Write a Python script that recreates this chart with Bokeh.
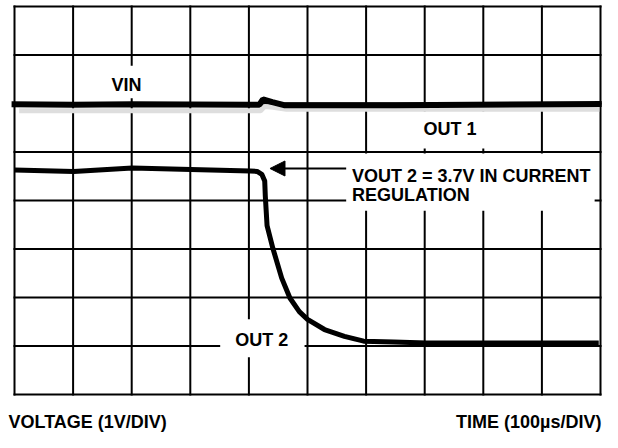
from bokeh.plotting import figure
from bokeh.models import Range1d, Label, Arrow, NormalHead, ColumnDataSource
from bokeh.embed import file_html
from bokeh.resources import INLINE

# Time in divisions (100us/DIV), voltage in divisions (1V/DIV)
vin_t = [-0.05, 1.0, 2.0, 4.0, 4.18, 4.24, 4.40, 4.60, 6.50, 10.02]
vin_v = [5.985, 5.975, 5.985, 5.975, 5.975, 6.087, 6.03, 5.965, 5.965, 5.99]

out1_t = [0.08, 4.20, 4.27, 4.41, 4.64, 9.98]
out1_v = [5.85, 5.85, 5.94, 5.92, 5.88, 5.88]

out2_t = [0.0, 1.01, 2.01, 3.01, 4.02, 4.14, 4.22, 4.27, 4.28, 4.31, 4.41, 4.56,
          4.70, 4.86, 5.00, 5.29, 5.63, 5.96, 6.47, 7.03, 8.16, 9.97]
out2_v = [4.63, 4.60, 4.67, 4.64, 4.61, 4.60, 4.54, 4.40, 4.09, 3.48, 3.01, 2.40,
          1.99, 1.71, 1.55, 1.34, 1.20, 1.10, 1.08, 1.06, 1.06, 1.06]

x_divs = list(range(0, 11))   # 10 time divisions
y_divs = list(range(0, 9))    # 8 voltage divisions

W, H = 602, 432
x0px, x1px, y0px, y1px = 14, 600, 394, 6   # graticule placement in pixels
sx = (x1px - x0px) / 10.0
sy = (y0px - y1px) / 8.0

p = figure(width=W, height=H,
           x_range=Range1d(-x0px / sx, 10 + (W - x1px) / sx),
           y_range=Range1d(-(H - y0px) / sy, 8 + y1px / sy),
           output_backend="svg", toolbar_location=None,
           x_axis_location=None, y_axis_location=None,
           min_border=0)
p.background_fill_color = "white"
p.border_fill_color = "white"
p.outline_line_color = None
p.xgrid.visible = False
p.ygrid.visible = False

# graticule
vsrc = ColumnDataSource(dict(x=x_divs, y0=[y_divs[0]] * len(x_divs), y1=[y_divs[-1]] * len(x_divs)))
hsrc = ColumnDataSource(dict(y=y_divs, x0=[x_divs[0]] * len(y_divs), x1=[x_divs[-1]] * len(y_divs)))
p.segment(x0="x", y0="y0", x1="x", y1="y1", source=vsrc, line_color="black", line_width=2, line_cap="square")
p.segment(x0="x0", y0="y", x1="x1", y1="y", source=hsrc, line_color="black", line_width=2, line_cap="square")

# white masks behind the labels (hide graticule lines)
mask = ColumnDataSource(dict(
    left=[1.60, 6.13, 5.66, 3.51],
    right=[2.25, 8.92, 9.90, 4.95],
    top=[6.78, 5.84, 4.97, 1.55],
    bottom=[6.11, 5.07, 3.79, 0.77],
))
p.quad(left="left", right="right", top="top", bottom="bottom", source=mask,
       fill_color="white", line_color=None)

p.line(out1_t, out1_v, line_color="#dedede", line_width=5)
p.line(vin_t, vin_v, line_color="black", line_width=6)
p.line(out2_t, out2_v, line_color="black", line_width=5, line_join="round")

p.add_layout(Arrow(end=NormalHead(size=15, fill_color="black", line_color="black"),
                   x_start=5.66, y_start=4.66, x_end=4.36, y_end=4.66,
                   line_color="black", line_width=2))

font = dict(text_font="Liberation Sans", text_font_style="bold",
            text_font_size="18px", text_color="black", text_baseline="alphabetic")

dy = 0.10  # compensation for rendered baseline offset
p.add_layout(Label(x=1.91, y=6.29 + dy, text="VIN", text_align="center", **font))
p.add_layout(Label(x=7.43, y=5.37 + dy, text="OUT 1", text_align="center", **font))
p.add_layout(Label(x=5.76, y=4.40 + dy, text="VOUT 2 = 3.7V IN CURRENT", text_align="left", **font))
p.add_layout(Label(x=5.76, y=4.01 + dy, text="REGULATION", text_align="left", **font))
p.add_layout(Label(x=4.22, y=1.02 + dy, text="OUT 2", text_align="center", **font))
p.add_layout(Label(x=(8 - x0px) / sx, y=-(421 - y0px) / sy, text="VOLTAGE (1V/DIV)", text_align="left", **font))
p.add_layout(Label(x=(601 - x0px) / sx, y=-(421 - y0px) / sy, text="TIME (100µs/DIV)", text_align="right", **font))

open("out.html", "w").write(file_html(p, INLINE))
